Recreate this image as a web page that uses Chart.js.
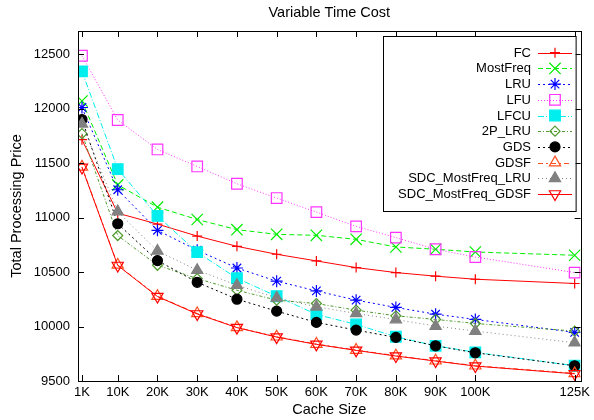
<!DOCTYPE html>
<html>
<head>
<meta charset="utf-8">
<script src="https://cdn.jsdelivr.net/npm/chart.js@4.4.0/dist/chart.umd.min.js"></script>
<style>
    html, body { margin: 0; padding: 0; background: #fff; }
    #timeCost { display: block; }
</style>
</head>
<body>
<canvas id="timeCost" width="594" height="420"></canvas>
<script>
// cache sizes in K
const cacheSizes = [1, 10, 20, 30, 40, 50, 60, 70, 80, 90, 100, 125];
const xTickLabels = ['1K', '10K', '20K', '30K', '40K', '50K', '60K', '70K', '80K', '90K', '100K', '125K'];
const yTicks = [9500, 10000, 10500, 11000, 11500, 12000, 12500];

const seriesNames = ['FC', 'MostFreq', 'LRU', 'LFU', 'LFCU', '2P_LRU', 'GDS', 'GDSF', 'SDC_MostFreq_LRU', 'SDC_MostFreq_GDSF'];

const fcCost = [11715, 11040, 10940, 10830, 10736, 10663, 10602, 10541, 10495, 10462, 10434, 10395];
const mostFreqCost = [12070, 11300, 11095, 10982, 10889, 10846, 10837, 10800, 10730, 10709, 10684, 10654];
const lruCost = [12010, 11255, 10883, 10700, 10537, 10416, 10327, 10242, 10175, 10113, 10065, 9946];
const lfuCost = [12485, 11895, 11625, 11469, 11310, 11179, 11050, 10919, 10816, 10709, 10638, 10495];
const lfcuCost = [12342, 11445, 11015, 10682, 10443, 10278, 10111, 10019, 9906, 9823, 9763, 9640];
const twoPLruCost = [11770, 10835, 10562, 10440, 10333, 10242, 10211, 10150, 10098, 10065, 10028, 9958];
const gdsCost = [11900, 10943, 10605, 10406, 10251, 10141, 10038, 9967, 9900, 9823, 9759, 9640];
const gdsfCost = [11465, 10565, 10278, 10120, 9992, 9906, 9839, 9784, 9732, 9686, 9640, 9570];
const sdcLruCost = [11860, 11055, 10693, 10517, 10379, 10263, 10181, 10120, 10064, 10004, 9958, 9851];
const sdcGdsfCost = [11460, 10560, 10275, 10115, 9990, 9903, 9836, 9781, 9729, 9683, 9637, 9566];

const allCosts = [fcCost, mostFreqCost, lruCost, lfuCost, lfcuCost, twoPLruCost, gdsCost, gdsfCost, sdcLruCost, sdcGdsfCost];

// look of every series: colour, dash, marker
const styles = [
    { color: '#ff0000', dash: [], point: 'cross', radius: 5, fill: false },
    { color: '#00ee00', dash: [5, 3], point: 'crossRot', radius: 8, fill: false },
    { color: '#0000ff', dash: [2, 3], point: 'star', radius: 6, fill: false },
    { color: '#ff33ff', dash: [1, 2], point: 'rect', radius: 7.5, fill: false },
    { color: '#00eeee', dash: [6, 2, 1, 2], point: 'rect', radius: 7.5, fill: true },
    { color: '#4f9a2e', dash: [3, 2, 1, 2], point: 'rectRot', radius: 5, fill: false },
    { color: '#000000', dash: [2, 3], point: 'circle', radius: 5, fill: true },
    { color: '#ff5020', dash: [5, 3, 2, 3], point: 'triangle', radius: 6.5, fill: false, rot: 0 },
    { color: '#808080', dash: [1, 3], point: 'triangle', radius: 6.5, fill: true, rot: 0 },
    { color: '#ff0000', dash: [], point: 'triangle', radius: 6.5, fill: false, rot: 180 }
];

const FONT = 'Liberation Sans, Arial, Helvetica, sans-serif';

const datasets = seriesNames.map(function (name, i) {
    const st = styles[i];
    return {
        label: name,
        data: cacheSizes.map((x, j) => ({ x: x, y: allCosts[i][j] })),
        borderColor: st.color,
        borderWidth: 1,
        borderDash: st.dash,
        pointStyle: st.point,
        pointRadius: st.radius,
        pointHoverRadius: st.radius,
        pointRotation: st.rot || 0,
        pointBorderColor: st.color,
        pointBorderWidth: 1.2,
        pointBackgroundColor: st.fill ? st.color : 'rgba(0,0,0,0)',
        fill: false,
        tension: 0,
        order: seriesNames.length - i
    };
});

// frame with inward ticks, like gnuplot
const framePlugin = {
    id: 'frame',
    afterDatasetsDraw(chart) {
        const { ctx, chartArea: a, scales } = chart;
        ctx.save();
        ctx.strokeStyle = '#000';
        ctx.lineWidth = 1;
        ctx.setLineDash([]);
        ctx.beginPath();
        cacheSizes.forEach(function (v) {
            const px = Math.round(scales.x.getPixelForValue(v)) + 0.5;
            ctx.moveTo(px, a.bottom); ctx.lineTo(px, a.bottom - 6);
            ctx.moveTo(px, a.top); ctx.lineTo(px, a.top + 6);
        });
        yTicks.forEach(function (v) {
            const py = Math.round(scales.y.getPixelForValue(v)) + 0.5;
            ctx.moveTo(a.left, py); ctx.lineTo(a.left + 6, py);
            ctx.moveTo(a.right, py); ctx.lineTo(a.right - 6, py);
        });
        ctx.stroke();
        ctx.strokeRect(Math.round(a.left) + 0.5, Math.round(a.top) + 0.5,
            Math.round(a.right - a.left), Math.round(a.bottom - a.top));
        ctx.restore();
    }
};

// boxed key in the top right corner
const keyPlugin = {
    id: 'key',
    afterDraw(chart) {
        const ctx = chart.ctx;
        const a = chart.chartArea;
        const boxRight = a.right - 5, boxLeft = 383, boxTop = 36, boxBottom = 211;
        const rowH = 15.7;
        ctx.save();
        ctx.fillStyle = '#fff';
        ctx.fillRect(boxLeft, boxTop, boxRight - boxLeft, boxBottom - boxTop);
        ctx.strokeStyle = '#000';
        ctx.lineWidth = 1;
        ctx.strokeRect(boxLeft + 0.5, boxTop + 0.5, boxRight - boxLeft, boxBottom - boxTop);
        ctx.font = '13px ' + FONT;
        ctx.textAlign = 'right';
        ctx.textBaseline = 'middle';
        datasets.forEach(function (ds, i) {
            const y = 52.7 + i * rowH;
            ctx.fillStyle = '#000';
            ctx.fillText(ds.label, 531, y + 0.5);
            ctx.strokeStyle = ds.borderColor;
            ctx.lineWidth = 1;
            ctx.setLineDash(ds.borderDash);
            ctx.beginPath();
            ctx.moveTo(538, Math.round(y) + 0.5);
            ctx.lineTo(572, Math.round(y) + 0.5);
            ctx.stroke();
            ctx.setLineDash([]);
            ctx.fillStyle = ds.pointBackgroundColor;
            ctx.lineWidth = ds.pointBorderWidth;
            Chart.helpers.drawPoint(ctx, {
                pointStyle: ds.pointStyle,
                radius: ds.pointRadius,
                rotation: ds.pointRotation,
                borderWidth: ds.pointBorderWidth
            }, 555, y);
        });
        ctx.restore();
    }
};

new Chart(document.getElementById('timeCost'), {
    type: 'line',
    data: { datasets: datasets },
    options: {
        responsive: false,
        animation: false,
        devicePixelRatio: 1,
        layout: { padding: { left: 0, right: 10, top: 0, bottom: 0 } },
        plugins: {
            legend: { display: false },
            tooltip: { enabled: false },
            title: {
                display: true,
                text: 'Variable Time Cost',
                fullSize: false,
                color: '#000',
                font: { family: FONT, size: 14.5, weight: 'normal' },
                padding: { top: 4.3, bottom: 9.3 }
            }
        },
        scales: {
            x: {
                type: 'linear',
                min: 0,
                max: 126.5,
                grid: { display: false, drawTicks: false },
                border: { display: false },
                afterBuildTicks: function (scale) {
                    scale.ticks = cacheSizes.map(v => ({ value: v }));
                },
                afterFit: function (scale) { scale.height = 39; },
                ticks: {
                    autoSkip: false,
                    maxRotation: 0,
                    padding: 4,
                    color: '#000',
                    font: { family: FONT, size: 13 },
                    callback: function (value) {
                        const k = cacheSizes.indexOf(value);
                        return k >= 0 ? xTickLabels[k] : '';
                    }
                },
                title: {
                    display: true,
                    text: 'Cache Size',
                    color: '#000',
                    font: { family: FONT, size: 14.5 },
                    padding: { top: 0, bottom: 1.3 }
                }
            },
            y: {
                type: 'linear',
                min: 9500,
                max: 12712,
                grid: { display: false, drawTicks: false },
                border: { display: false },
                afterBuildTicks: function (scale) {
                    scale.ticks = yTicks.map(v => ({ value: v }));
                },
                afterFit: function (scale) { scale.width = 78; },
                ticks: {
                    padding: 8,
                    color: '#000',
                    font: { family: FONT, size: 13 },
                    callback: function (value) { return String(value); }
                },
                title: {
                    display: true,
                    text: 'Total Processing Price',
                    color: '#000',
                    font: { family: FONT, size: 14.5 },
                    padding: { top: 8, bottom: 0 }
                }
            }
        }
    },
    plugins: [framePlugin, keyPlugin]
});
</script>
</body>
</html>
